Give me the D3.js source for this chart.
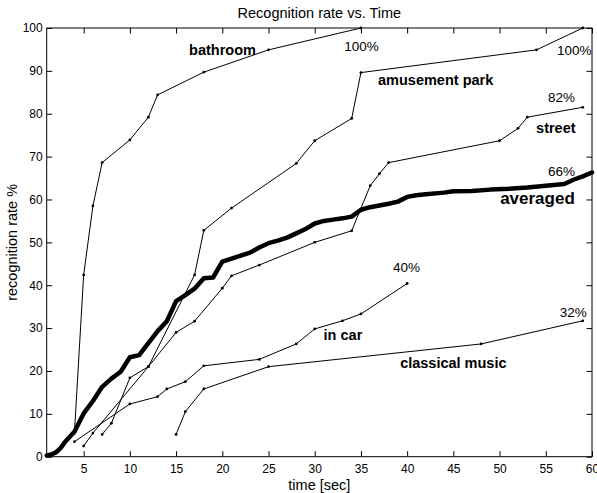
<!DOCTYPE html>
<html>
<head>
<meta charset="utf-8">
<script src="https://cdn.jsdelivr.net/npm/d3@7"></script>
<style>
  body { margin: 0; background: #fff; }
  svg { display: block; font-family: "Liberation Sans", Arial, Helvetica, sans-serif; }
</style>
</head>
<body>
<svg id="chart" width="597" height="493"></svg>
<script>
//
// Data
//

var timeBathroom = [4, 5, 6, 7, 10, 12, 13, 18, 25, 35];
var rateBathroom = [5.6, 42.4, 58.5, 68.6, 73.9, 79.2, 84.4, 89.7, 94.9, 100];

var timePark = [7, 8, 10, 12, 17, 18, 21, 28, 30, 34, 35, 54, 59];
var ratePark = [5.2, 7.8, 18.4, 21, 42.4, 52.8, 58, 68.4, 73.7, 78.9, 89.6, 94.9, 100];

var timeStreet = [5, 6, 12, 15, 17, 20, 21, 24, 30, 34, 36, 37, 38, 50, 52, 53, 59];
var rateStreet = [2.5, 5.5, 21, 29, 31.6, 39.3, 42.2, 44.7, 50, 52.7, 63.2, 66, 68.6, 73.7, 76.6, 79.2, 81.5];

var timeCar = [4, 10, 13, 14, 16, 18, 24, 28, 30, 33, 35, 40];
var rateCar = [3.5, 12.3, 14, 15.8, 17.5, 21.2, 22.7, 26.3, 29.8, 31.7, 33.3, 40.4];

var timeClassical = [15, 16, 18, 25, 48, 59];
var rateClassical = [5.2, 10.5, 15.8, 21, 26.3, 31.7];

var timeAveraged = [1, 1.5, 2, 2.5, 3, 4, 5, 6, 7, 8, 9, 10, 11, 12, 13, 14, 15, 16, 17, 18,
  19, 20, 21, 22, 23, 24, 25, 26, 27, 28, 29, 30, 31, 32, 33, 34, 35, 36, 37, 38, 39, 40,
  41, 42, 44, 45, 47, 49, 51, 53, 55, 57, 58, 59, 60];
var rateAveraged = [0.3, 0.5, 1, 2, 3.5, 5.8, 10.1, 13, 16.3, 18.2, 19.8, 23.2, 23.7, 26.5,
  29.3, 31.6, 36.3, 37.7, 39.2, 41.6, 41.8, 45.5, 46.2, 46.9, 47.6, 48.8, 49.8, 50.4, 51.1,
  52.1, 53.1, 54.4, 55, 55.3, 55.6, 56, 57.6, 58.2, 58.6, 59, 59.5, 60.6, 61, 61.2, 61.6,
  61.9, 62, 62.3, 62.5, 62.8, 63.2, 63.6, 64.6, 65.4, 66.3];

var xTicks = [5, 10, 15, 20, 25, 30, 35, 40, 45, 50, 55, 60];
var yTicks = [0, 10, 20, 30, 40, 50, 60, 70, 80, 90, 100];

// labels on the plot, in data units (time, rate)
var labelText = ["bathroom", "100%", "amusement park", "100%", "82%", "street", "66%",
  "averaged", "40%", "in car", "32%", "classical music"];
var labelTime = [16.4, 33.2, 36.85, 56.2, 55.25, 53.95, 55.25, 50.06, 38.48, 30.96, 56.5, 39.24];
var labelRate = [93.7, 94.75, 86.7, 93.7, 82.7, 75.5, 65.5, 58.9, 43, 27.2, 32.7, 20.7];
var labelKind = ["name", "pct", "name", "pct", "pct", "name", "pct", "big", "pct", "name", "pct", "name"];

//
// Layout
// (plot box edges in px; "top" can't be used as a global name, it's window.top)
//

var boxLeft = 46.7, boxRight = 592, boxTop = 28, boxBottom = 456.7;
var svg = d3.select("#chart");

var x = d3.scaleLinear().domain([1, 60]).range([boxLeft, boxRight]);
var y = d3.scaleLinear().domain([0, 100]).range([boxBottom, boxTop]);

var line = d3.line()
  .x(function(d) { return x(d[0]); })
  .y(function(d) { return y(d[1]); });

// title
svg.append("text")
  .attr("x", (boxLeft + boxRight) / 2)
  .attr("y", 18)
  .attr("text-anchor", "middle")
  .style("font-size", "14.5px")
  .text("Recognition rate vs. Time");

// axes: bottom + left with labels, top + right mirrored ticks, all pointing inward
var tickLen = 5.5;
function styleAxis(g) {
  g.select(".domain").remove();
  g.selectAll("line").attr("stroke", "#000").attr("stroke-width", 1);
  g.selectAll("text").style("font-size", "12px").attr("fill", "#000");
}

svg.append("g")
  .attr("transform", "translate(0," + boxBottom + ")")
  .call(d3.axisBottom(x).tickValues(xTicks).tickSizeInner(-tickLen).tickSizeOuter(0).tickPadding(8))
  .call(styleAxis);

svg.append("g")
  .attr("transform", "translate(" + boxLeft + ",0)")
  .call(d3.axisLeft(y).tickValues(yTicks).tickSizeInner(-tickLen).tickSizeOuter(0).tickPadding(4))
  .call(styleAxis);

svg.append("g")
  .attr("transform", "translate(0," + boxTop + ")")
  .call(d3.axisTop(x).tickValues(xTicks).tickSizeInner(-tickLen).tickSizeOuter(0).tickFormat(""))
  .call(styleAxis);

svg.append("g")
  .attr("transform", "translate(" + boxRight + ",0)")
  .call(d3.axisRight(y).tickValues(yTicks).tickSizeInner(-tickLen).tickSizeOuter(0).tickFormat(""))
  .call(styleAxis);

// frame
svg.append("rect")
  .attr("x", boxLeft).attr("y", boxTop)
  .attr("width", boxRight - boxLeft).attr("height", boxBottom - boxTop)
  .attr("fill", "none").attr("stroke", "#000").attr("stroke-width", 1);

// axis titles
svg.append("text")
  .attr("x", (boxLeft + boxRight) / 2)
  .attr("y", 490)
  .attr("text-anchor", "middle")
  .style("font-size", "14.5px")
  .text("time [sec]");

svg.append("text")
  .attr("transform", "translate(17," + (boxTop + boxBottom) / 2 + ") rotate(-90)")
  .attr("text-anchor", "middle")
  .style("font-size", "14.5px")
  .text("recognition rate %");

//
// Curves
//

var thinSeries = [
  d3.zip(timeBathroom, rateBathroom),
  d3.zip(timePark, ratePark),
  d3.zip(timeStreet, rateStreet),
  d3.zip(timeCar, rateCar),
  d3.zip(timeClassical, rateClassical)
];

var plot = svg.append("g");

thinSeries.forEach(function(pts) {
  plot.append("path")
    .datum(pts)
    .attr("d", line)
    .attr("fill", "none")
    .attr("stroke", "#000")
    .attr("stroke-width", 1);
  plot.selectAll(null)
    .data(pts)
    .enter().append("circle")
    .attr("cx", function(d) { return x(d[0]); })
    .attr("cy", function(d) { return y(d[1]); })
    .attr("r", 1.4)
    .attr("fill", "#000");
});

plot.append("path")
  .datum(d3.zip(timeAveraged, rateAveraged))
  .attr("d", line)
  .attr("fill", "none")
  .attr("stroke", "#000")
  .attr("stroke-width", 4.5)
  .attr("stroke-linejoin", "round")
  .attr("stroke-linecap", "round");

//
// Labels
//

labelText.forEach(function(t, i) {
  var kind = labelKind[i];
  svg.append("text")
    .attr("x", x(labelTime[i]))
    .attr("y", y(labelRate[i]))
    .style("font-size", kind === "big" ? "17px" : kind === "name" ? "14.5px" : "13.5px")
    .style("font-weight", kind === "pct" ? "normal" : "bold")
    .text(t);
});
</script>
</body>
</html>
